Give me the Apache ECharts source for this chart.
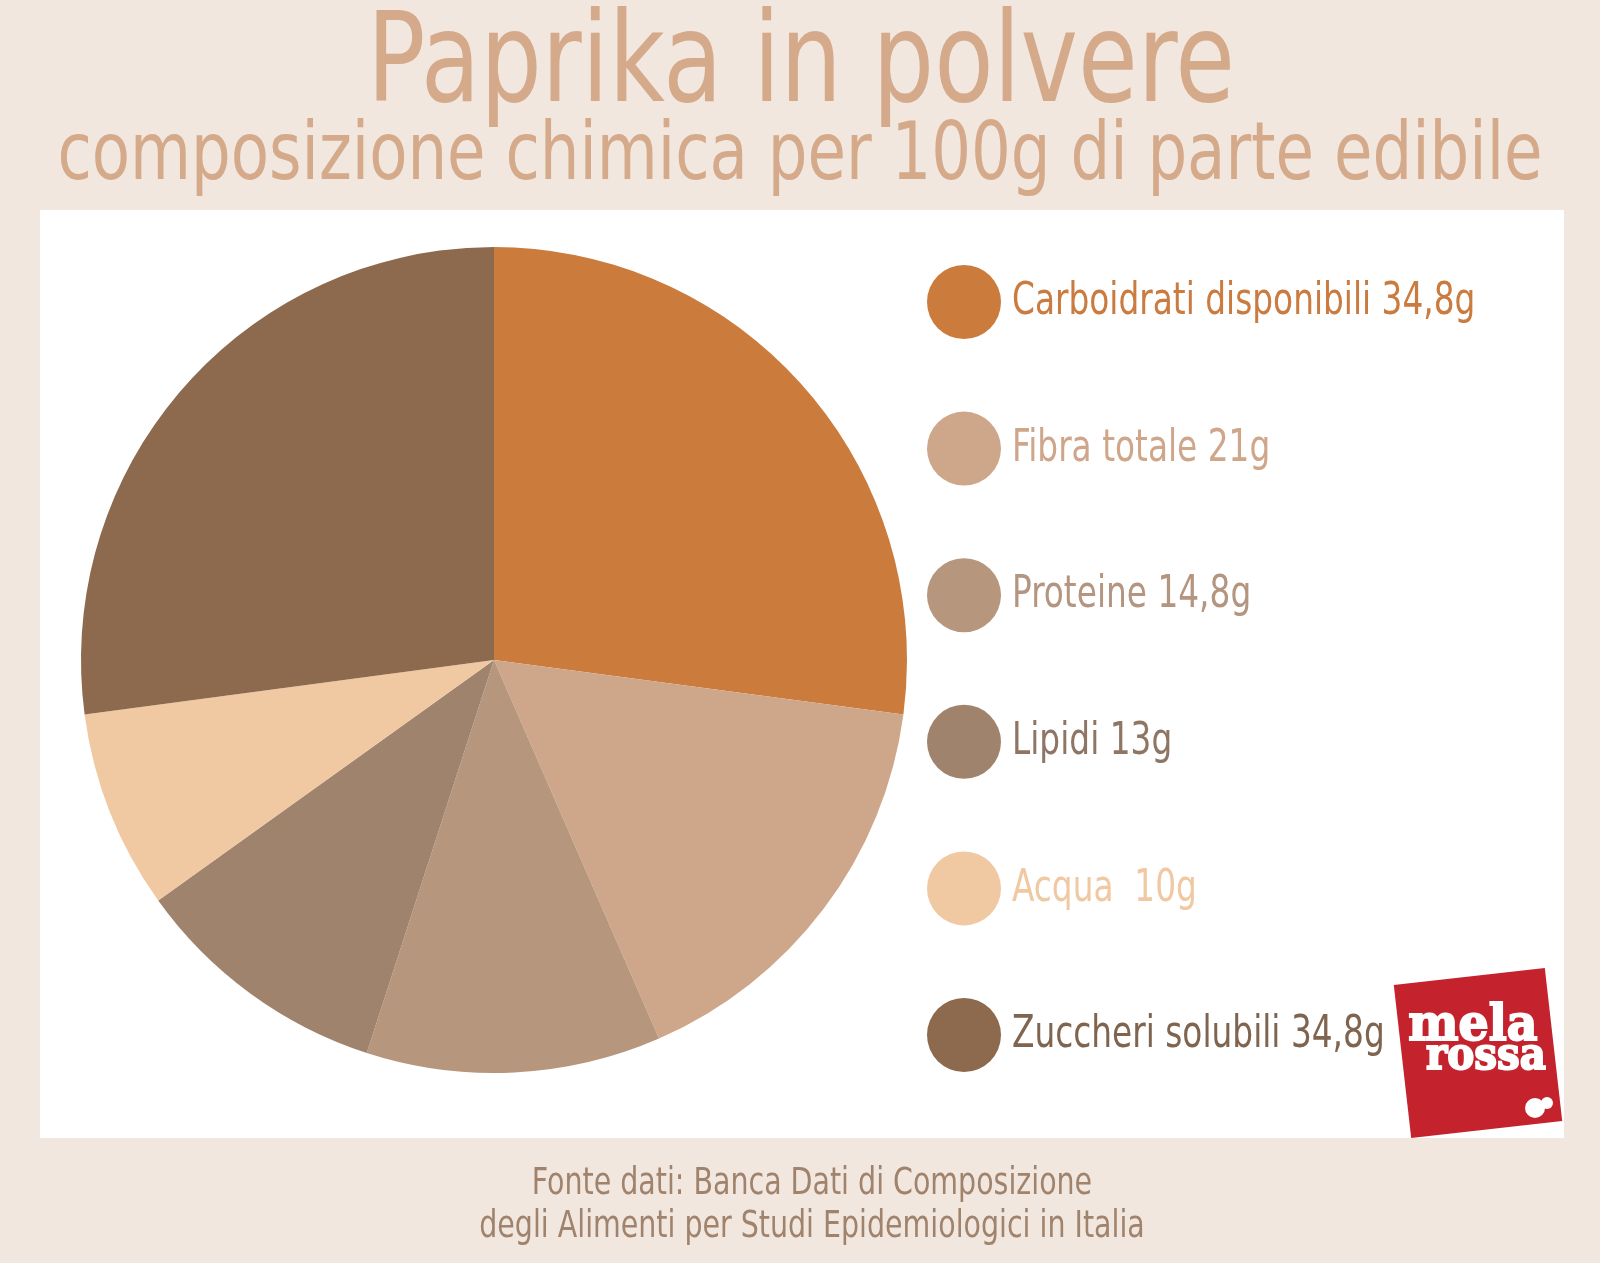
<!DOCTYPE html>
<html><head><meta charset="utf-8">
<script src="https://cdn.jsdelivr.net/npm/echarts@6/dist/echarts.min.js"></script>
<style>html,body{margin:0;padding:0;background:#F2E7DF;}#c{width:1600px;height:1263px;}</style>
</head><body><div id="c"></div>
<script>
const categories = ['Carboidrati disponibili', 'Fibra totale', 'Proteine', 'Lipidi', 'Acqua', 'Zuccheri solubili'];
const values = [34.8, 21, 14.8, 13, 10, 34.8];
const valueLabels = ['34,8g', '21g', '14,8g', '13g', ' 10g', '34,8g'];
const colors = ['#CB7B3C', '#CEA68A', '#B7967E', '#A0836D', '#F0C8A2', '#8D694D'];
const textColors = ['#C97B40', '#CFA68A', '#B39580', '#8F7563', '#F0C8A2', '#7F644F'];
const FONT = '"DejaVu Sans Condensed", "DejaVu Sans", sans-serif';

const legendGraphics = categories.map((c, i) => {
  const cy = 302 + i * 146.6;
  return {type: 'group', z: 8, children: [
    {type: 'circle', shape: {cx: 964, cy: cy, r: 37}, style: {fill: colors[i]}},
    {type: 'text', x: 1012, y: cy - 22, scaleX: 0.81, style: {text: c + ' ' + valueLabels[i], x: 0, y: 0, font: '400 45px ' + FONT, fill: textColors[i], verticalAlign: 'top'}}
  ]};
});

const chart = echarts.init(document.getElementById('c'), null, {renderer: 'canvas'});
chart.setOption({
  backgroundColor: '#F2E7DF',
  animation: false,
  graphic: [
    {type: 'rect', z: 0, shape: {x: 40, y: 210, width: 1524, height: 928}, style: {fill: '#FFFFFF'}},
    {type: 'text', z: 5, x: 801, y: 7, scaleX: 0.87, style: {text: 'Paprika in polvere', x: 0, y: 0, font: '400 124px ' + FONT, fill: '#D4AA8B', align: 'center', verticalAlign: 'top'}},
    {type: 'text', z: 5, x: 800, y: 118, scaleX: 0.869, style: {text: 'composizione chimica per 100g di parte edibile', x: 0, y: 0, font: '400 80px ' + FONT, fill: '#D4AA8B', align: 'center', verticalAlign: 'top'}},
    {type: 'text', z: 5, x: 812, y: 1166, scaleX: 0.855, style: {text: 'Fonte dati: Banca Dati di Composizione', x: 0, y: 0, font: '400 37px ' + FONT, fill: '#A0836D', align: 'center', verticalAlign: 'top'}},
    {type: 'text', z: 5, x: 812, y: 1209, scaleX: 0.855, style: {text: 'degli Alimenti per Studi Epidemiologici in Italia', x: 0, y: 0, font: '400 37px ' + FONT, fill: '#A0836D', align: 'center', verticalAlign: 'top'}},
    {type: 'group', z: 10, x: 1478, y: 1053, rotation: 6.5 * Math.PI / 180, children: [
      {type: 'rect', shape: {x: -76, y: -77, width: 152, height: 154}, style: {fill: '#C4232E'}}
    ]},
    {type: 'text', z: 11, x: 1473, y: 1027, scaleX: 0.95, style: {text: 'mela', x: 0, y: 0, font: '900 50px "DejaVu Serif", serif', fill: '#FFFFFF', align: 'center', verticalAlign: 'middle', stroke: '#FFFFFF', lineWidth: 2}},
    {type: 'text', z: 11, x: 1486, y: 1058, scaleX: 0.92, style: {text: 'rossa', x: 0, y: 0, font: '900 44px "DejaVu Serif", serif', fill: '#FFFFFF', align: 'center', verticalAlign: 'middle', stroke: '#FFFFFF', lineWidth: 2}},
    {type: 'circle', z: 11, shape: {cx: 1535, cy: 1108, r: 10}, style: {fill: '#FFFFFF'}},
    {type: 'circle', z: 11, shape: {cx: 1547, cy: 1103, r: 6}, style: {fill: '#FFFFFF'}},
    ...legendGraphics
  ],
  series: [{
    type: 'pie',
    center: [494, 660],
    radius: [0, 413],
    startAngle: 90,
    clockwise: true,
    label: {show: false},
    labelLine: {show: false},
    emphasis: {disabled: true},
    itemStyle: {borderWidth: 0},
    data: categories.map((c, i) => ({name: c, value: values[i], itemStyle: {color: colors[i]}}))
  }]
});
</script></body></html>
